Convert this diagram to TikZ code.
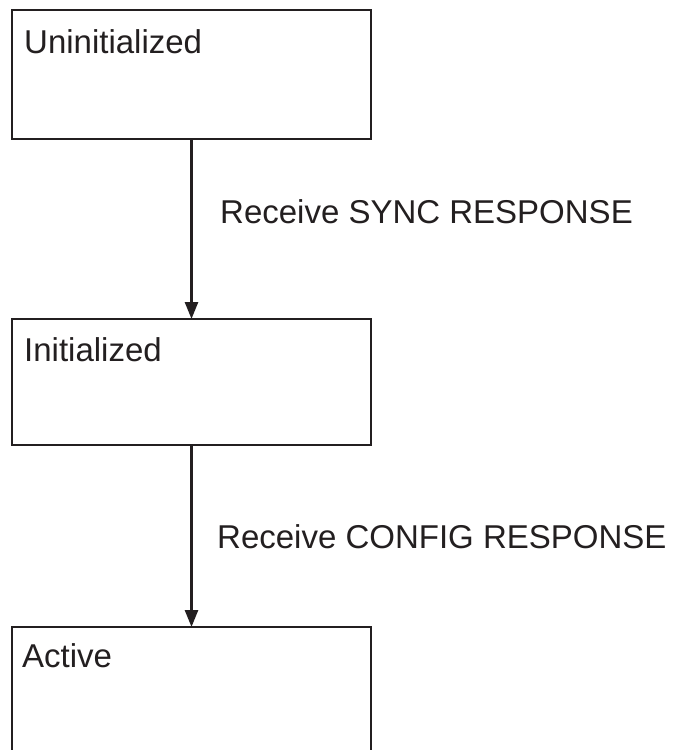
\documentclass[tikz,border=0pt]{standalone}
\usepackage{fontspec}
\setmainfont{Liberation Sans}
\usetikzlibrary{arrows.meta,calc}
\definecolor{ink}{RGB}{35,31,32}
\begin{document}
\begin{tikzpicture}[x=1pt,y=-1pt,
  statebox/.style={draw=ink, line width=2.6pt, rectangle, anchor=north west,
    minimum width=359pt, inner sep=0pt, outer sep=0pt},
  statetext/.style={anchor=base west, inner sep=0pt, text=ink,
    font=\fontsize{33}{40}\selectfont},
  translabel/.style={anchor=base west, inner sep=0pt, text=ink,
    font=\fontsize{33}{40}\selectfont},
  transition/.style={draw=ink, line width=2.6pt,
    -{Triangle[width=13pt,length=17pt]}}]
  \clip (0,0) rectangle (678,750);
  \fill[white] (0,0) rectangle (678,750);

  % states
  \node[statebox, minimum height=129pt] (uninit) at (12,10) {};
  \node[statebox, minimum height=126pt] (init) at (12,319) {};
  \node[statebox, minimum height=140pt] (active) at (12,627) {};

  \node[statetext] (uninitT) at ($(uninit.north west)+(12,43)$) {Uninitialized};
  \node[statetext] (initT) at ($(init.north west)+(12,42)$) {Initialized};
  \node[statetext] (activeT) at ($(active.north west)+(10,40)$) {Active};

  % transitions
  \draw[transition] (uninit.south) -- (init.north);
  \draw[transition] (init.south) -- (active.north);

  \node[translabel] (syncL) at (220,223) {Receive SYNC RESPONSE};
  \node[translabel] (configL) at (217,548) {Receive CONFIG RESPONSE};
\end{tikzpicture}
\end{document}
